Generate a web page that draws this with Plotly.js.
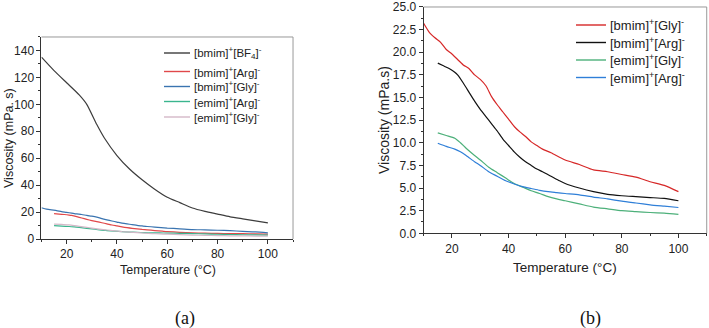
<!DOCTYPE html>
<html>
<head>
<meta charset="utf-8">
<script src="https://cdn.plot.ly/plotly-3.0.1.min.js"></script>
<style>
  html, body { margin: 0; padding: 0; background: #fff; }
  #grafico { width: 709px; height: 328px; }
</style>
</head>
<body>
<div id="grafico"></div>
<script>
// Datos (temperatura en °C, viscosidad en mPa·s)
const tBF4 = [10, 15, 20, 25, 28, 32, 35, 40, 45, 50, 55, 60, 65, 70, 75, 80, 85, 90, 95, 100];
const vBF4 = [135, 125, 116, 107, 100, 85, 75, 62, 52, 44, 37, 31, 27, 23, 20.5, 18.5, 16.5, 15, 13.5, 12];

const tBmimGly = [10, 12, 14, 16, 18, 20, 22, 24, 26, 28, 30, 32, 34, 36, 38, 40, 42, 44, 46, 48, 50, 52, 55, 60, 65, 70, 75, 80, 85, 90, 95, 100];
const vBmimGly = [23.2, 22.2, 21.6, 21.1, 20.3, 19.8, 19.2, 18.6, 18.2, 17.5, 17.0, 16.3, 15.1, 14.2, 13.4, 12.6, 11.8, 11.2, 10.7, 10.1, 9.7, 9.3, 8.9, 8.1, 7.6, 7.0, 6.8, 6.5, 6.2, 5.7, 5.3, 4.6];

const tBmimArg = [15, 17, 19, 21, 22, 24, 26, 28, 30, 32, 34, 36, 38, 40, 42, 44, 46, 48, 50, 52, 55, 58, 60, 65, 70, 75, 80, 85, 90, 95, 100];
const vBmimArg = [18.8, 18.5, 18.2, 17.8, 17.5, 16.6, 15.6, 14.6, 13.7, 12.9, 12.1, 11.3, 10.4, 9.7, 9.0, 8.4, 7.9, 7.5, 7.1, 6.8, 6.3, 5.8, 5.5, 5.0, 4.6, 4.3, 4.15, 4.05, 3.95, 3.85, 3.6];

const tEmim = [15, 18, 21, 23, 25, 28, 30, 33, 36, 39, 42, 45, 48, 51, 54, 57, 60, 65, 70, 75, 80, 85, 90, 95, 100];
const vEmimGly = [11.1, 10.8, 10.5, 10.0, 9.4, 8.6, 8.1, 7.3, 6.7, 6.1, 5.5, 5.1, 4.7, 4.4, 4.05, 3.8, 3.6, 3.25, 2.9, 2.7, 2.5, 2.4, 2.3, 2.22, 2.1];
const vEmimArg = [9.95, 9.6, 9.3, 9.0, 8.6, 7.9, 7.5, 6.8, 6.3, 5.8, 5.45, 5.15, 4.95, 4.75, 4.6, 4.5, 4.4, 4.25, 4.0, 3.8, 3.55, 3.35, 3.15, 3.0, 2.85];

const nBF4 = "[bmim]<sup>+</sup>[BF<sub>4</sub>]<sup>-</sup>";
const nBmimArg = "[bmim]<sup>+</sup>[Arg]<sup>-</sup>";
const nBmimGly = "[bmim]<sup>+</sup>[Gly]<sup>-</sup>";
const nEmimArg = "[emim]<sup>+</sup>[Arg]<sup>-</sup>";
const nEmimGly = "[emim]<sup>+</sup>[Gly]<sup>-</sup>";

// colores de cada panel
const coloresA = ["#3d3d3d", "#e0484a", "#3a74b0", "#3ab58e", "#d4b8c8"];
const coloresB = ["#d62828", "#111111", "#4db07a", "#2f7fd8"];

const serieA = [[tBF4, vBF4, nBF4], [tBmimArg, vBmimArg, nBmimArg], [tBmimGly, vBmimGly, nBmimGly], [tEmim, vEmimArg, nEmimArg], [tEmim, vEmimGly, nEmimGly]];
const serieB = [[tBmimGly, vBmimGly, nBmimGly], [tBmimArg, vBmimArg, nBmimArg], [tEmim, vEmimGly, nEmimGly], [tEmim, vEmimArg, nEmimArg]];

function linea(s, color, ejeX, ejeY) {
    return {
        x: s[0], y: s[1], name: s[2], mode: "lines", showlegend: false,
        line: { color: color, width: 1.2, shape: "spline", smoothing: 0.6 },
        xaxis: ejeX, yaxis: ejeY
    };
}

const trazas = serieA.map((s, i) => linea(s, coloresA[i], "x", "y"))
    .concat(serieB.map((s, i) => linea(s, coloresB[i], "x2", "y2")));

const fuente = { family: "Liberation Sans, Arial, sans-serif", color: "#222" };
const W = 709, H = 328;

function eje(dom, rango, dtick, minor, extra) {
    return Object.assign({
        domain: dom, range: rango, dtick: dtick, tick0: 0,
        showgrid: false, zeroline: false, showline: true, linecolor: "#333", linewidth: 1,
        ticks: "outside", ticklen: 4, tickcolor: "#333", ticklabeloverflow: "allow",
        minor: { ticks: "outside", ticklen: 2, dtick: minor, tickcolor: "#333", showgrid: false },
        tickfont: Object.assign({ size: 12 }, fuente)
    }, extra || {});
}

// marco superior y derecho (gris claro)
const marco = (xr, yr) => [
    { type: "line", xref: xr + " domain", yref: yr + " domain", x0: 0, x1: 1, y0: 1, y1: 1, line: { color: "#999", width: 1 } },
    { type: "line", xref: xr + " domain", yref: yr + " domain", x0: 1, x1: 1, y0: 0, y1: 1, line: { color: "#999", width: 1 } }
];

// leyenda dibujada a mano para respetar el espaciado original
function leyenda(series, colores, x0, x1, xt, filas, tam) {
    const formas = [], textos = [];
    series.forEach((s, i) => {
        const yy = 1 - filas[i] / H;
        formas.push({ type: "line", xref: "paper", yref: "paper", x0: x0 / W, x1: x1 / W, y0: yy, y1: yy, line: { color: colores[i], width: 1.4 } });
        textos.push({ text: s[2], xref: "paper", yref: "paper", x: xt / W, y: yy, xanchor: "left", yanchor: "middle", showarrow: false, font: Object.assign({ size: tam }, fuente) });
    });
    return { formas, textos };
}

const legA = leyenda(serieA, coloresA, 164, 190, 192, [53, 71.5, 86.5, 101.5, 117], 11.5);
const legB = leyenda(serieB, coloresB, 576, 606, 608, [25, 42.5, 60, 77.5], 13);

function texto(t, x, y, tam, extra) {
    return Object.assign({ text: t, xref: "paper", yref: "paper", x: x / W, y: 1 - y / H, xanchor: "center", yanchor: "middle", showarrow: false, font: Object.assign({ size: tam }, fuente) }, extra || {});
}

const serif = { family: "Liberation Serif, Times New Roman, serif", size: 18, color: "#111" };

const layout = {
    width: W, height: H,
    margin: { l: 0, r: 0, t: 0, b: 0 },
    paper_bgcolor: "#fff", plot_bgcolor: "#fff",
    showlegend: false,
    xaxis: eje([0.0585, 0.4133], [10, 110], 20, 10, { tick0: 20, anchor: "y" }),
    yaxis: eje([0.2713, 0.8872], [0, 150], 20, 10, { anchor: "x" }),
    xaxis2: eje([0.5975, 0.9968], [10, 110], 20, 10, { tick0: 20, anchor: "y2" }),
    yaxis2: eje([0.2887, 0.9787], [0, 25], 2.5, 1.25, { anchor: "x2", tickformat: ".1f" }),
    shapes: marco("x", "y").concat(marco("x2", "y2"), legA.formas, legB.formas),
    annotations: [
        texto("Temperature (°C)", 168, 270, 12.5),
        texto("Viscosity (mPa. s)", 9, 138, 12.5, { textangle: -90 }),
        texto("Temperature (°C)", 565, 267, 13.5),
        texto("Viscosity (mPa.s)", 384, 120, 14, { textangle: -90 }),
        texto("(a)", 185, 318, 18, { font: serif }),
        texto("(b)", 590, 318, 18, { font: serif })
    ].concat(legA.textos, legB.textos)
};

Plotly.newPlot("grafico", trazas, layout, { staticPlot: true, displayModeBar: false });
</script>
</body>
</html>
